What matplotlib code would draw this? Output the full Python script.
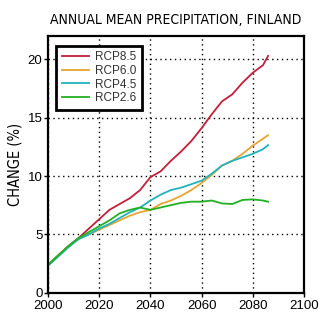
import matplotlib.pyplot as plt

# 연도와 시나리오별 강수량 변화 (%)
years = [2000, 2004, 2008, 2012, 2016, 2020, 2024, 2028, 2032, 2036, 2040, 2044,
         2048, 2052, 2056, 2060, 2064, 2068, 2072, 2076, 2080, 2084, 2086]
rcp85 = [2.4, 3.2, 4.0, 4.7, 5.5, 6.3, 7.1, 7.6, 8.1, 8.8, 9.9, 10.4,
         11.3, 12.1, 13.0, 14.1, 15.3, 16.4, 17.0, 18.0, 18.85, 19.5, 20.3]
rcp60 = [2.4, 3.2, 4.0, 4.6, 5.0, 5.4, 5.8, 6.2, 6.6, 6.9, 7.1, 7.6,
         7.9, 8.3, 8.8, 9.4, 10.1, 10.9, 11.3, 11.9, 12.6, 13.2, 13.5]
rcp45 = [2.3, 3.1, 3.9, 4.6, 5.0, 5.5, 5.9, 6.4, 6.9, 7.3, 7.9, 8.4,
         8.8, 9.0, 9.3, 9.6, 10.2, 10.9, 11.3, 11.6, 11.9, 12.3, 12.65]
rcp26 = [2.4, 3.2, 4.0, 4.7, 5.2, 5.7, 6.2, 6.8, 7.1, 7.3, 7.1, 7.3,
         7.5, 7.7, 7.8, 7.8, 7.9, 7.65, 7.6, 7.95, 8.0, 7.9, 7.8]

labels = ["RCP8.5", "RCP6.0", "RCP4.5", "RCP2.6"]
colors = ["#c41e3a", "#e8a530", "#1fb3bd", "#22b022"]
xticks = [2000, 2020, 2040, 2060, 2080, 2100]
yticks = [0, 5, 10, 15, 20]

plt.rcParams["font.family"] = ["Liberation Sans", "DejaVu Sans"]

fig = plt.figure(figsize=(3.3, 3.25), dpi=100)
ax = fig.add_axes([0.1455, 0.0994, 0.7755, 0.7898])

for vals, lab, col in zip([rcp85, rcp60, rcp45, rcp26], labels, colors):
    ax.plot(years, vals, color=col, linewidth=1.3, label=lab)

ax.set_xlim(2000, 2100)
ax.set_ylim(0, 22)
ax.set_xticks(xticks)
ax.set_yticks(yticks)
ax.tick_params(labelsize=9.5, length=3, width=1, direction="out", pad=1)
ax.tick_params(axis="x", pad=2)
ax.grid(True, color="black", linestyle=(0, (1, 2.5)), linewidth=1)
for s in ax.spines.values():
    s.set_linewidth(1.6)

ax.set_ylabel("CHANGE (%)", fontsize=10.5, family="DejaVu Sans", stretch="condensed", labelpad=4)
ax.set_title("ANNUAL MEAN PRECIPITATION, FINLAND", fontsize=10,
             family="DejaVu Sans", stretch="condensed", pad=9)

leg = ax.legend(loc="upper left", fontsize=8.5, handlelength=2.3, fancybox=False,
                framealpha=1, edgecolor="black", borderpad=0.45, labelspacing=0.15,
                handletextpad=0.5, bbox_to_anchor=(0.01, 0.985))
leg.get_frame().set_linewidth(2)
for t in leg.get_texts():
    t.set_color("#333333")

plt.savefig("out.png", dpi=100)
